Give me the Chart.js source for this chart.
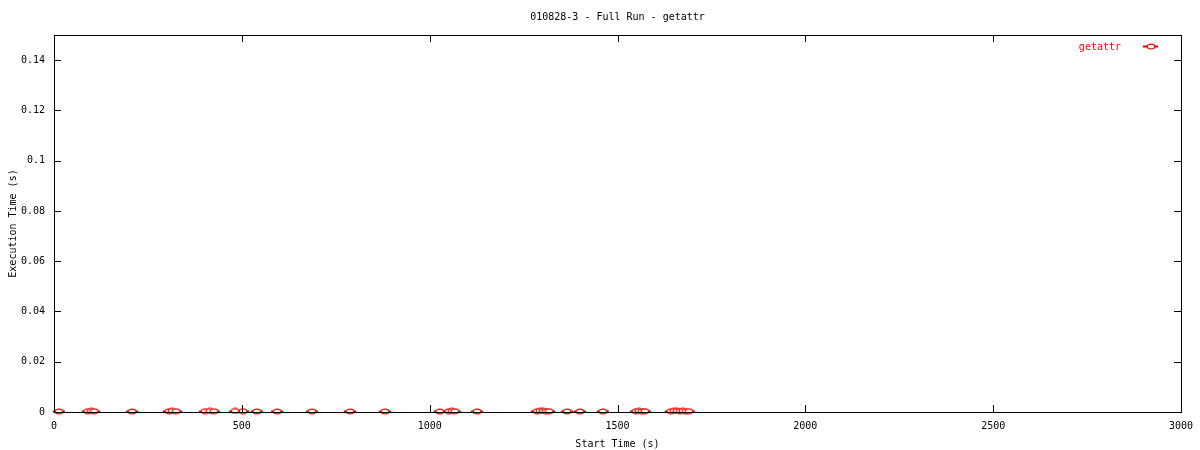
<!DOCTYPE html>
<html>
<head>
<meta charset="utf-8">
<script src="https://cdn.jsdelivr.net/npm/chart.js@4/dist/chart.umd.min.js"></script>
<style>
  html, body { margin: 0; padding: 0; background: #fff; }
  #wrap { width: 1200px; height: 450px; }
</style>
</head>
<body>
<div id="wrap"><canvas id="myChart"></canvas></div>
<script>
// start times (s) of each getattr call
var startTimes = [13, 90, 99, 107, 208, 306, 314, 325, 402, 415, 426, 482, 503, 540, 594, 687, 788, 881,
  1027, 1051, 1059, 1067, 1126, 1286, 1294, 1302, 1310, 1318, 1366, 1400, 1461,
  1549, 1557, 1565, 1573, 1642, 1650, 1658, 1666, 1674, 1682, 1690];
// execution times (s), all close to zero
var execTimes = [0.0002, 0.0003, 0.0004, 0.0003, 0.0002, 0.0003, 0.0004, 0.0003, 0.0003, 0.0004, 0.0003, 0.0004, 0.0003, 0.0002, 0.0002, 0.0002, 0.0002, 0.0002,
  0.0002, 0.0003, 0.0004, 0.0003, 0.0002, 0.0003, 0.0004, 0.0004, 0.0003, 0.0003, 0.0002, 0.0002, 0.0002,
  0.0003, 0.0004, 0.0003, 0.0003, 0.0003, 0.0004, 0.0004, 0.0003, 0.0004, 0.0003, 0.0003];
var xErr = 16; // half width of the x error bar (s)
var xTicks = [0, 500, 1000, 1500, 2000, 2500, 3000];
var yTicks = [0, 0.02, 0.04, 0.06, 0.08, 0.1, 0.12, 0.14];
var titleText = "010828-3 - Full Run - getattr";

var FONT = "'DejaVu Sans Mono', monospace";
var RED = "#ff0000";

// small hollow ellipse used as the point marker
function makeMarker() {
  var c = document.createElement("canvas");
  c.width = 10; c.height = 7;
  var g = c.getContext("2d");
  g.strokeStyle = RED;
  g.fillStyle = "#fff";
  g.lineWidth = 1.2;
  g.beginPath();
  g.ellipse(5, 3.5, 3.8, 2.4, 0, 0, Math.PI * 2);
  g.fill();
  g.stroke();
  return c;
}
var marker = makeMarker();

var points = startTimes.map(function (t, i) {
  return { x: t, y: execTimes[i] };
});

// title over the plot, horizontal error bars, inward ticks, frame and legend
var gnuplotLook = {
  id: "gnuplotLook",
  beforeDatasetsDraw: function (chart) {
    var ctx = chart.ctx, xs = chart.scales.x, ys = chart.scales.y;
    ctx.save();
    ctx.strokeStyle = "#cc0000";
    ctx.lineWidth = 2;
    points.forEach(function (p) {
      var y = Math.round(ys.getPixelForValue(p.y)) + 0.5;
      ctx.beginPath();
      ctx.moveTo(xs.getPixelForValue(p.x - xErr), y);
      ctx.lineTo(xs.getPixelForValue(p.x + xErr), y);
      ctx.stroke();
    });
    ctx.restore();
  },
  afterDraw: function (chart) {
    var ctx = chart.ctx, a = chart.chartArea, xs = chart.scales.x, ys = chart.scales.y;
    ctx.save();
    ctx.strokeStyle = "#000";
    ctx.lineWidth = 1;
    ctx.strokeRect(Math.round(a.left) + 0.5, Math.round(a.top) + 0.5,
      Math.round(a.right - a.left), Math.round(a.bottom - a.top));
    ctx.beginPath();
    xTicks.forEach(function (v) {
      var x = Math.round(xs.getPixelForValue(v)) + 0.5;
      ctx.moveTo(x, a.bottom); ctx.lineTo(x, a.bottom - 7);
      ctx.moveTo(x, a.top); ctx.lineTo(x, a.top + 7);
    });
    yTicks.forEach(function (v) {
      var y = Math.round(ys.getPixelForValue(v)) + 0.5;
      ctx.moveTo(a.left, y); ctx.lineTo(a.left + 7, y);
      ctx.moveTo(a.right, y); ctx.lineTo(a.right - 7, y);
    });
    ctx.stroke();

    ctx.font = "10px " + FONT;
    ctx.textBaseline = "middle";
    ctx.fillStyle = "#000";
    ctx.textAlign = "center";
    ctx.fillText(titleText, (a.left + a.right) / 2, 17);

    // legend
    ctx.fillStyle = RED;
    ctx.textAlign = "right";
    ctx.fillText("getattr", a.right - 60, a.top + 12);
    ctx.strokeStyle = "#cc0000";
    ctx.lineWidth = 2;
    ctx.beginPath();
    ctx.moveTo(a.right - 38, a.top + 11.5);
    ctx.lineTo(a.right - 23, a.top + 11.5);
    ctx.stroke();
    ctx.drawImage(marker, a.right - 35, a.top + 8);
    ctx.restore();
  }
};

var ctx = document.getElementById("myChart").getContext("2d");
var myChart = new Chart(ctx, {
  type: "scatter",
  data: {
    datasets: [
      {
        label: "getattr",
        data: points,
        pointStyle: marker,
        pointRadius: 4,
        borderColor: RED,
        backgroundColor: RED,
        clip: false
      }
    ]
  },
  options: {
    responsive: true,
    maintainAspectRatio: false,
    animation: false,
    layout: { padding: { left: 0, right: 19, top: 35, bottom: 0 } },
    plugins: {
      legend: { display: false },
      tooltip: { enabled: false },
      title: { display: false }
    },
    scales: {
      x: {
        type: "linear",
        min: 0,
        max: 3000,
        afterFit: function (s) { s.height = 38; },
        afterBuildTicks: function (s) { s.ticks = xTicks.map(function (v) { return { value: v }; }); },
        grid: { display: false },
        border: { display: false },
        ticks: {
          color: "#000",
          font: { family: FONT, size: 10 },
          padding: 0,
          maxRotation: 0,
          callback: function (v) { return String(v); }
        },
        title: {
          display: true,
          text: "Start Time (s)",
          color: "#000",
          font: { family: FONT, size: 10 },
          padding: { top: 2, bottom: 0 }
        }
      },
      y: {
        min: 0,
        max: 0.15,
        afterFit: function (s) { s.width = 54; },
        afterBuildTicks: function (s) { s.ticks = yTicks.map(function (v) { return { value: v }; }); },
        grid: { display: false },
        border: { display: false },
        ticks: {
          color: "#000",
          font: { family: FONT, size: 10 },
          padding: 1,
          callback: function (v) { return String(+v.toFixed(2)); }
        },
        title: {
          display: true,
          text: "Execution Time (s)",
          color: "#000",
          font: { family: FONT, size: 10 },
          padding: { top: 7, bottom: 0 }
        }
      }
    }
  },
  plugins: [gnuplotLook]
});
</script>
</body>
</html>
